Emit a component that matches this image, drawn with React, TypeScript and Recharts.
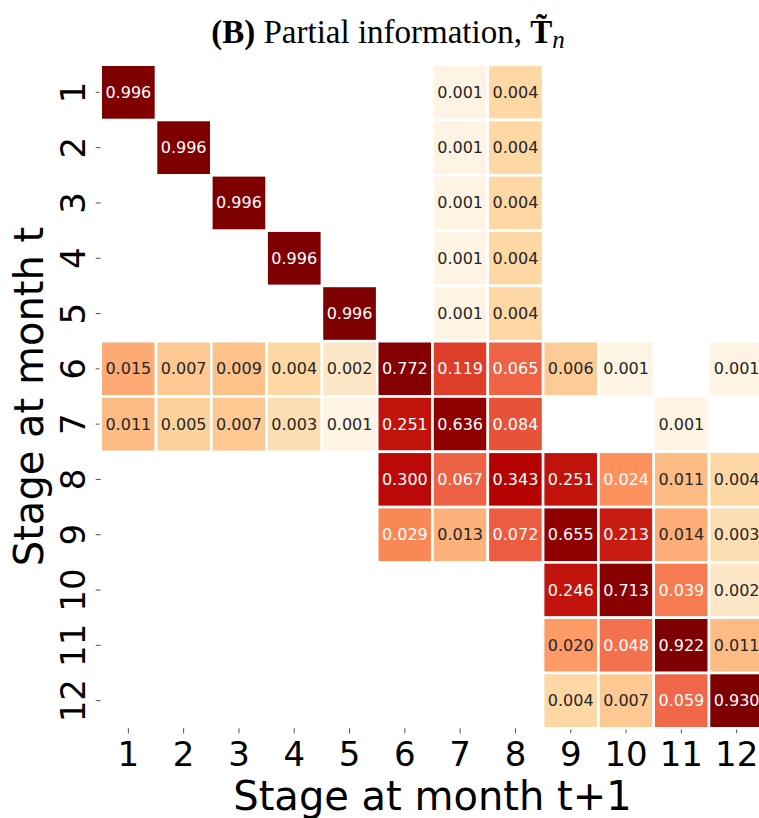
import { Label, Scatter, ScatterChart, XAxis, YAxis } from "recharts";

// Transition probabilities, row = stage at month t, column = stage at month t+1.
// null means the transition never occurs (cell left blank).
const stages = [1, 2, 3, 4, 5, 6, 7, 8, 9, 10, 11, 12];

const fromStage1 = [0.996, null, null, null, null, null, 0.001, 0.004, null, null, null, null];
const fromStage2 = [null, 0.996, null, null, null, null, 0.001, 0.004, null, null, null, null];
const fromStage3 = [null, null, 0.996, null, null, null, 0.001, 0.004, null, null, null, null];
const fromStage4 = [null, null, null, 0.996, null, null, 0.001, 0.004, null, null, null, null];
const fromStage5 = [null, null, null, null, 0.996, null, 0.001, 0.004, null, null, null, null];
const fromStage6 = [0.015, 0.007, 0.009, 0.004, 0.002, 0.772, 0.119, 0.065, 0.006, 0.001, null, 0.001];
const fromStage7 = [0.011, 0.005, 0.007, 0.003, 0.001, 0.251, 0.636, 0.084, null, null, 0.001, null];
const fromStage8 = [null, null, null, null, null, 0.3, 0.067, 0.343, 0.251, 0.024, 0.011, 0.004];
const fromStage9 = [null, null, null, null, null, 0.029, 0.013, 0.072, 0.655, 0.213, 0.014, 0.003];
const fromStage10 = [null, null, null, null, null, null, null, null, 0.246, 0.713, 0.039, 0.002];
const fromStage11 = [null, null, null, null, null, null, null, null, 0.02, 0.048, 0.922, 0.011];
const fromStage12 = [null, null, null, null, null, null, null, null, 0.004, 0.007, 0.059, 0.93];

const matrix: (number | null)[][] = [
  fromStage1, fromStage2, fromStage3, fromStage4, fromStage5, fromStage6,
  fromStage7, fromStage8, fromStage9, fromStage10, fromStage11, fromStage12,
];

interface Cell {
  from: number;
  to: number;
  value: number;
}

const cells: Cell[] = [];
matrix.forEach((row, r) =>
  row.forEach((value, c) => {
    if (value != null) cells.push({ from: stages[r], to: stages[c], value });
  })
);

// layout
const CHART_W = 770;
const CHART_H = 818;
const PLOT_LEFT = 100.7;
const PLOT_TOP = 64.7;
const PLOT_SIZE = 663.6;
const CELL = PLOT_SIZE / stages.length;
const Y_AXIS_W = 100;
const X_AXIS_H = 89;
const PLOT_BOTTOM = PLOT_TOP + PLOT_SIZE;

const SANS = "DejaVu Sans";

// OrRd colormap on a log scale
const ORRD = ["#fff7ec", "#fee8c8", "#fdd49e", "#fdbb84", "#fc8d59", "#ef6548", "#d7301f", "#b30000", "#7f0000"];
const VMIN = 0.0008;
const VMAX = 0.85;
const LIGHT_TEXT_MIN = 0.022;

function hexToRgb(h: string) {
  return [1, 3, 5].map((i) => parseInt(h.slice(i, i + 2), 16));
}

function cellColor(v: number) {
  const lo = Math.log10(VMIN);
  const hi = Math.log10(VMAX);
  const t = Math.min(1, Math.max(0, (Math.log10(v) - lo) / (hi - lo)));
  const pos = t * (ORRD.length - 1);
  const i = Math.min(ORRD.length - 2, Math.floor(pos));
  const f = pos - i;
  const a = hexToRgb(ORRD[i]);
  const b = hexToRgb(ORRD[i + 1]);
  const rgb = a.map((x, k) => Math.round(x + (b[k] - x) * f));
  return `rgb(${rgb.join(",")})`;
}

function HeatCell(props: any) {
  const { cx, cy, payload } = props;
  const v: number = payload.value;
  return (
    <g>
      <rect
        x={cx - CELL / 2}
        y={cy - CELL / 2}
        width={CELL}
        height={CELL}
        fill={cellColor(v)}
        stroke="#ffffff"
        strokeWidth={2.6}
      />
      <text
        x={cx}
        y={cy}
        textAnchor="middle"
        dominantBaseline="central"
        fontFamily={SANS}
        fontSize={16}
        fill={v >= LIGHT_TEXT_MIN ? "#ffffff" : "#262626"}
      >
        {v.toFixed(3)}
      </text>
    </g>
  );
}

function XTick(props: any) {
  const { x, payload } = props;
  return (
    <text x={x} y={PLOT_BOTTOM + 37.4} textAnchor="middle" fontFamily={SANS} fontSize={34} fill="#000">
      {payload.value}
    </text>
  );
}

function YTick(props: any) {
  const { y, payload } = props;
  const bx = PLOT_LEFT - 15.7;
  return (
    <text
      x={bx}
      y={y}
      transform={`rotate(-90 ${bx} ${y})`}
      textAnchor="middle"
      fontFamily={SANS}
      fontSize={34}
      fill="#000"
    >
      {payload.value}
    </text>
  );
}

const xTitle = () => (
  <text x={PLOT_LEFT + PLOT_SIZE / 2} y={810} textAnchor="middle" fontFamily={SANS} fontSize={40} fill="#000">
    Stage at month t+1
  </text>
);

const yTitle = () => {
  const bx = 43.3;
  const cy = PLOT_TOP + PLOT_SIZE / 2;
  return (
    <text
      x={bx}
      y={cy}
      transform={`rotate(-90 ${bx} ${cy})`}
      textAnchor="middle"
      fontFamily={SANS}
      fontSize={40}
      fill="#000"
    >
      Stage at month t
    </text>
  );
};

export default function App() {
  return (
    <div
      style={{
        position: "absolute",
        left: 0,
        top: 0,
        width: 759,
        height: 818,
        overflow: "hidden",
        background: "#ffffff",
      }}
    >
      <ScatterChart
        width={CHART_W}
        height={CHART_H}
        margin={{
          top: PLOT_TOP,
          left: PLOT_LEFT - Y_AXIS_W,
          right: CHART_W - PLOT_LEFT - PLOT_SIZE,
          bottom: CHART_H - PLOT_BOTTOM - X_AXIS_H,
        }}
      >
        <XAxis
          dataKey="to"
          type="number"
          domain={[0.5, stages.length + 0.5]}
          ticks={stages}
          interval={0}
          axisLine={false}
          tickLine={{ stroke: "#222", strokeWidth: 0.8 }}
          tickSize={5}
          height={X_AXIS_H}
          tick={<XTick />}
        >
          <Label value="Stage at month t+1" content={xTitle} />
        </XAxis>
        <YAxis
          dataKey="from"
          type="number"
          domain={[0.5, stages.length + 0.5]}
          reversed
          ticks={stages}
          interval={0}
          axisLine={false}
          tickLine={{ stroke: "#222", strokeWidth: 0.8 }}
          tickSize={5}
          width={Y_AXIS_W}
          tick={<YTick />}
        >
          <Label value="Stage at month t" content={yTitle} />
        </YAxis>
        <Scatter data={cells} shape={<HeatCell />} isAnimationActive={false} />
      </ScatterChart>
      <svg
        width={759}
        height={60}
        style={{ position: "absolute", left: 0, top: 0, pointerEvents: "none" }}
      >
        <text x={388} y={43} textAnchor="middle" fontFamily="Liberation Serif" fontSize={33} fill="#000">
          <tspan fontWeight="bold">(B)</tspan>
          <tspan> Partial information, </tspan>
          <tspan fontWeight="bold">T&#771;</tspan>
          <tspan fontStyle="italic" fontSize={25} dy={5}>
            n
          </tspan>
        </text>
      </svg>
    </div>
  );
}
